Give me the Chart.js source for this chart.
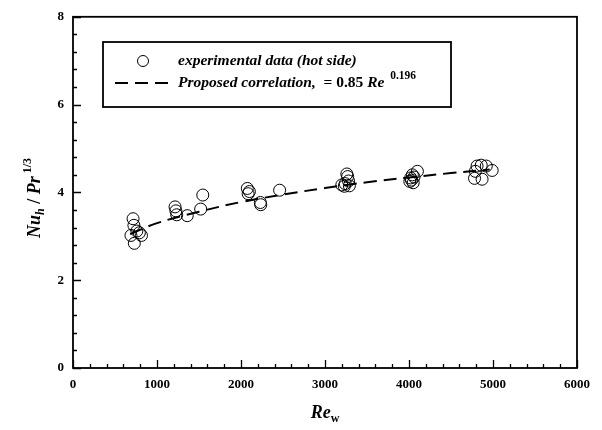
<!DOCTYPE html>
<html>
<head>
<meta charset="utf-8">
<script src="https://cdn.jsdelivr.net/npm/chart.js@4.4.1/dist/chart.umd.min.js"></script>
<style>
  html,body{margin:0;padding:0;background:#fff;}
  #wrap{width:602px;height:430px;position:relative;}
</style>
</head>
<body>
<div id="wrap"><canvas id="chart" width="602" height="430"></canvas></div>
<script>
/* ================= DATEN ================= */
// Messpunkte (hot side)
const RE_EXP = [690,715,725,730,790,815,760,
                1215,1225,1235,1360,1520,1545,
                2075,2085,2100,2230,2235,2460,
                3200,3230,3240,3260,3270,3280,3290,
                4010,4020,4030,4040,4050,4060,4100,
                4780,4790,4810,4860,4870,4920,4990];
const NU_EXP = [3.02,3.40,3.25,2.84,3.08,3.02,3.12,
                3.67,3.58,3.49,3.47,3.62,3.94,
                4.09,3.97,4.02,3.77,3.72,4.05,
                4.17,4.14,4.20,4.42,4.36,4.26,4.15,
                4.25,4.33,4.28,4.40,4.22,4.35,4.48,
                4.32,4.48,4.60,4.62,4.30,4.60,4.50];
// Korrelation
const RE_FIT = [680,1000,1500,2000,2500,3000,3500,4000,4500,4960];
const NU_FIT = [3.05,3.30,3.56,3.78,3.95,4.10,4.23,4.34,4.44,4.52];

const X_MAJOR = 1000, X_MINOR = 200;
const Y_MAJOR = 2, Y_MINOR = 0.4;

const SERIF = '"Liberation Serif","Times New Roman",serif';

/* ================= HILFSFUNKTIONEN ================= */
// Text aus Teilen zeichnen: [text, font, dy]
function drawRich(ctx, parts, x, y){
    let cx = x;
    parts.forEach(p=>{
        ctx.font = p[1];
        ctx.fillText(p[0], cx, y + (p[2]||0));
        cx += ctx.measureText(p[0]).width;
    });
    return cx - x;
}
function richWidth(ctx, parts){
    let w = 0;
    parts.forEach(p=>{ ctx.font = p[1]; w += ctx.measureText(p[0]).width; });
    return w;
}

const decor = {
    id:'decor',
    afterDraw(chart){
        const {ctx, chartArea:a, scales:{x, y}} = chart;
        ctx.save();
        ctx.strokeStyle = '#000';
        ctx.fillStyle = '#000';

        // Rahmen
        ctx.lineWidth = 1.8;
        ctx.strokeRect(a.left, a.top, a.right-a.left, a.bottom-a.top);

        // Ticks nach innen
        ctx.lineWidth = 1.3;
        ctx.beginPath();
        for(let v = 0; v <= x.max+1e-6; v += X_MINOR){
            const px = Math.round(x.getPixelForValue(v))+0.5;
            const len = Math.abs(v % X_MAJOR) < 1e-6 ? 8 : 4;
            ctx.moveTo(px, a.bottom); ctx.lineTo(px, a.bottom-len);
        }
        for(let v = 0; v <= y.max+1e-6; v += Y_MINOR){
            const py = Math.round(y.getPixelForValue(v))+0.5;
            const r = v / Y_MAJOR;
            const len = Math.abs(r - Math.round(r)) < 1e-6 ? 8 : 4;
            ctx.moveTo(a.left, py); ctx.lineTo(a.left+len, py);
        }
        ctx.stroke();

        // Achsentitel
        ctx.textBaseline = 'alphabetic';
        const bi = 'italic bold 18px '+SERIF;
        const xt = [['Re', bi], ['w', 'bold 12px '+SERIF, 4]];
        const xw = richWidth(ctx, xt);
        drawRich(ctx, xt, (a.left+a.right)/2 - xw/2, 418);

        const yt = [['Nu', bi], ['h', 'italic bold 12px '+SERIF, 4], [' / ', 'bold 18px '+SERIF],
                    ['Pr', bi], [' 1/3', 'bold 12px '+SERIF, -9]];
        const yw = richWidth(ctx, yt);
        ctx.save();
        ctx.translate(40, 198);
        ctx.rotate(-Math.PI/2);
        drawRich(ctx, yt, -yw/2, 0);
        ctx.restore();

        // Legende
        const bx = a.left+30, by = 42, bw = 348, bh = 65;
        ctx.lineWidth = 1.8;
        ctx.strokeRect(bx, by, bw, bh);
        ctx.lineWidth = 1;
        ctx.beginPath();
        ctx.arc(bx+40, by+19, 5.5, 0, Math.PI*2);
        ctx.stroke();
        ctx.lineWidth = 2;
        ctx.setLineDash([13,7]);
        ctx.beginPath();
        ctx.moveTo(bx+12, by+41); ctx.lineTo(bx+65, by+41);
        ctx.stroke();
        ctx.setLineDash([]);

        ctx.textBaseline = 'middle';
        const lt = 'italic bold 15.5px '+SERIF;
        drawRich(ctx, [['experimental data (hot side)', lt]], bx+75, by+19);
        drawRich(ctx, [['Proposed correlation,  ', lt], ['= 0.85 ', 'bold 15.5px '+SERIF], ['Re', lt],
                       ['  0.196', 'bold 11.5px '+SERIF, -7]], bx+75, by+41);
        ctx.restore();
    }
};

/* ================= CHART ================= */
new Chart(document.getElementById('chart'), {
    type:'scatter',
    data:{
        datasets:[
            {
                label:'experimental data (hot side)',
                data:RE_EXP.map((r,i)=>({x:r, y:NU_EXP[i]})),
                pointStyle:'circle',
                pointRadius:6,
                pointBorderWidth:1,
                pointBorderColor:'#000',
                pointBackgroundColor:'rgba(0,0,0,0)',
                order:2
            },
            {
                label:'Proposed correlation',
                type:'line',
                data:RE_FIT.map((r,i)=>({x:r, y:NU_FIT[i]})),
                borderColor:'#000',
                borderWidth:2,
                borderDash:[13,7],
                pointRadius:0,
                tension:0.4,
                fill:false,
                order:1
            }
        ]
    },
    options:{
        responsive:false,
        animation:false,
        layout:{padding:{top:15, right:25, left:0, bottom:0}},
        plugins:{legend:{display:false}, tooltip:{enabled:false}},
        scales:{
            x:{
                type:'linear', min:0, max:6000,
                grid:{display:false, drawTicks:false},
                border:{display:false},
                ticks:{stepSize:X_MAJOR, padding:9, color:'#000', maxRotation:0,
                       font:{family:SERIF, size:13, weight:'bold'},
                       callback:v=>String(v)},
                afterFit(s){ s.height = 62; }
            },
            y:{
                type:'linear', min:0, max:8,
                grid:{display:false, drawTicks:false},
                border:{display:false},
                ticks:{stepSize:Y_MAJOR, padding:9, color:'#000',
                       font:{family:SERIF, size:13, weight:'bold'},
                       callback:v=>String(v)},
                afterFit(s){ s.width = 73; }
            }
        }
    },
    plugins:[decor]
});
</script>
</body>
</html>
